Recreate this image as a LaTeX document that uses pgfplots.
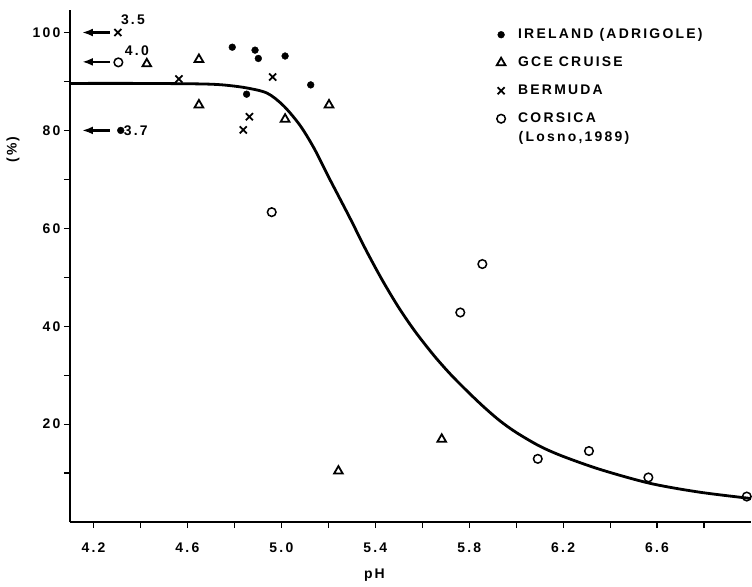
\documentclass[border=0pt]{standalone}
\usepackage{fontspec}
\setmainfont{Liberation Sans}[LetterSpace=16]
\usepackage{pgfplots}
\pgfplotsset{compat=1.18}
\usetikzlibrary{arrows.meta}
\newcommand{\lf}{\fontsize{14}{16}\selectfont\bfseries}
\begin{document}
\begin{tikzpicture}
\begin{axis}[
  scale only axis,
  width=681bp, height=512bp,
  xmin=4.1, xmax=7.0, ymin=0, ymax=104.6,
  axis lines=left,
  axis line style={line width=1.3bp, -},
  xtick={4.2,4.4,4.6,4.8,5.0,5.2,5.4,5.6,5.8,6.0,6.2,6.4,6.6,6.8},
  xticklabels={4.2,,4.6,,5.0,,5.4,,5.8,,6.2,,6.6,},
  ytick={10,20,30,40,50,60,70,80,90,100},
  yticklabels={,20,,40,,60,,80,,100},
  tick align=outside,
  major tick length=6bp,
  tick style={line width=1.2bp, black},
  ticklabel style={font=\lf},
  xticklabel style={yshift=-11bp},
  /pgf/number format/assume math mode=true,
  xlabel={pH},
  ylabel={(\%)},
  xlabel style={font=\lf, at={(axis description cs:0.447,-0.1035)}, anchor=center},
  ylabel style={font=\lf, at={(axis description cs:-0.0837,0.727)}, anchor=center},
  clip=false,
  legend cell align=left,
  legend style={at={(axis description cs:0.6225,0.9687)}, anchor=north west,
    draw=none, fill=none, font=\lf, row sep=11bp, inner sep=0pt,
    nodes={text height=10bp, text depth=3bp, inner sep=2bp}},
  legend image code/.code={\draw[#1] plot coordinates {(0.3cm,0cm)};
    \path[draw=none, fill=none] (0.3cm,0cm) ++(-7bp,0pt) -- ++(22bp,0pt);},
]
% IRELAND (ADRIGOLE)
\addplot[only marks, mark=*, mark size=3.4bp, black] coordinates {
  (4.316,80.0) (4.791,97.0) (4.888,96.4) (4.902,94.7) (5.016,95.2) (5.125,89.3) (4.852,87.4)
};
\addlegendentry{IRELAND (ADRIGOLE)}
% GCE CRUISE
\addplot[only marks, mark=triangle, mark size=5bp, black, line width=1.8bp] coordinates {
  (4.427,93.6) (4.649,94.5) (4.649,85.2) (5.016,82.3) (5.203,85.2) (5.243,10.4) (5.683,16.9)
};
\addlegendentry{GCE CRUISE}
% BERMUDA
\addplot[only marks, mark=x, mark size=5bp, black, line width=1.8bp] coordinates {
  (4.304,100.0) (4.564,90.5) (4.864,82.8) (4.838,80.1) (4.963,90.9)
};
\addlegendentry{BERMUDA}
% CORSICA
\addplot[only marks, mark=o, mark size=4.3bp, black, line width=1.5bp] coordinates {
  (4.306,93.9) (4.959,63.3) (5.762,42.8) (5.856,52.7) (6.092,12.9) (6.310,14.5) (6.563,9.1) (6.982,5.2)
};
\addlegendentry{CORSICA}
% fitted curve
\addplot[smooth, black, line width=2.8bp, forget plot] coordinates {
  (4.10,89.6) (4.40,89.6) (4.65,89.5) (4.75,89.3) (4.85,88.7) (4.94,87.6) (5.01,85.0) (5.08,81.0)
  (5.14,76.3) (5.20,70.6) (5.29,62.3) (5.36,55.6) (5.43,49.4) (5.50,43.8) (5.57,38.9)
  (5.65,34.0) (5.72,30.2) (5.79,26.8) (5.86,23.6) (5.93,20.7) (6.00,18.3) (6.10,15.5)
  (6.20,13.4) (6.36,10.7) (6.57,7.9) (6.78,6.1) (7.00,4.8)
};
% off-scale arrows and labels
\draw[line width=2.2bp, {Latex[length=11bp,width=8bp]}-] (axis cs:4.151,100) -- (axis cs:4.27,100);
\draw[line width=2.2bp, {Latex[length=11bp,width=8bp]}-] (axis cs:4.151,94) -- (axis cs:4.27,94);
\draw[line width=2.2bp, {Latex[length=11bp,width=8bp]}-] (axis cs:4.151,80) -- (axis cs:4.27,80);
\node[font=\lf] at (axis cs:4.368,102.6) {3.5};
\node[font=\lf] at (axis cs:4.385,96.2) {4.0};
\node[font=\lf] at (axis cs:4.380,80.0) {3.7};
\node[font=\lf, anchor=west, inner sep=0pt] at (axis cs:6.010,78.5) {(Losno,1989)};
\end{axis}
\pgfresetboundingbox
\path[use as bounding box] (-70bp,-65bp) rectangle (682bp,522bp);
\end{tikzpicture}
\end{document}
